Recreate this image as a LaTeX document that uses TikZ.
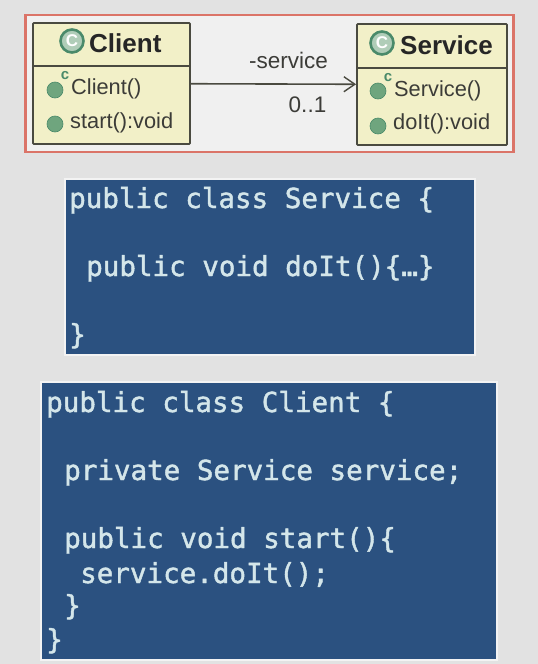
\documentclass[tikz,border=0pt]{standalone}
\usepackage{fontspec}
\setmainfont{Liberation Sans}
\newfontfamily\codefont[FakeBold=1.5]{DejaVu Sans Mono}
\usetikzlibrary{arrows.meta}
\definecolor{bgc}{HTML}{E2E2E2}
\definecolor{panel}{HTML}{F0F0F0}
\definecolor{redb}{HTML}{DB7468}
\definecolor{classf}{HTML}{F2F0C8}
\definecolor{classb}{HTML}{4A4A40}
\definecolor{codeb}{HTML}{2B5180}
\definecolor{codet}{HTML}{D4E6EA}
\definecolor{greenI}{HTML}{6FA57E}
\definecolor{greenD}{HTML}{4A8A6A}
\definecolor{txt}{HTML}{3C3C38}
\tikzset{
  x=1pt,y=-1pt,
  classbox/.style={draw=classb,line width=1.8pt,fill=classf,rectangle,inner sep=0pt,rounded corners=0.8pt},
  divider/.style={draw=classb,line width=1.5pt},
  codebox/.style={draw=white!60!bgc,line width=2pt,fill=codeb,rectangle,inner sep=0pt},
  codeline/.style={anchor=base west,inner sep=0pt,text=codet,font=\codefont\fontsize{27.55}{30}\selectfont},
  classname/.style={anchor=base west,inner sep=0pt,text=black!85,font=\bfseries\fontsize{26}{28}\selectfont},
  member/.style={anchor=base west,inner sep=0pt,text=txt,font=\fontsize{21.8}{24}\selectfont},
  ticon/.style={circle,draw=greenD,line width=2.6pt,fill=greenI!55!white,minimum size=23pt,inner sep=0pt,text=white,font=\bfseries\fontsize{17}{17}\selectfont},
  dot/.style={circle,fill=greenI,draw=greenD,line width=0.6pt,minimum size=16pt,inner sep=0pt},
  cmark/.style={inner sep=0pt,text=greenD,font=\bfseries\fontsize{15}{15}\selectfont},
  lbl/.style={inner sep=0pt,text=txt,font=\fontsize{22.5}{24}\selectfont},
}
\begin{document}
\begin{tikzpicture}
\useasboundingbox (0,0) rectangle (538,664);
\fill[bgc] (0,0) rectangle (538,664);
\node[rectangle,draw=redb,line width=2.4pt,fill=panel,minimum width=488pt,minimum height=137pt,inner sep=0pt] (frame) at (269.5,83.5) {};

% Client class
\node[classbox,minimum width=157pt,minimum height=121pt] (client) at (111.5,83.5) {};
\draw[divider] (33,66) -- (190,66);
\node[ticon] (cicon) at (72,41) {C};
\node[classname] (cname) at (89,52) {Client};
\node[dot] (cdot1) at (55,90) {};
\node[cmark] (cc) at (65,76) {c};
\node[member] (cm1) at (71,94) {Client()};
\node[dot] (cdot2) at (55,124) {};
\node[member] (cm2) at (70,128) {start():void};

% Service class
\node[classbox,minimum width=150pt,minimum height=121pt] (service) at (432,84.5) {};
\draw[divider] (357,68) -- (507,68);
\node[ticon] (sicon) at (382,43) {C};
\node[classname] (sname) at (400,54) {Service};
\node[dot] (sdot1) at (378,91) {};
\node[cmark] (sc) at (388,78) {c};
\node[member] (sm1) at (394,96) {Service()};
\node[dot] (sdot2) at (378,126) {};
\node[member] (sm2) at (393,129) {doIt():void};

% Association
\draw[classb,line width=1.6pt,-{Straight Barb[length=11pt,width=15pt,line width=1.4pt]}] (client) -- (service);
\node[lbl] (role) at (288.5,60) {-service};
\node[lbl] (mult) at (307.5,105) {0..1};

% Service code
\node[codebox,minimum width=410pt,minimum height=176pt] (codeA) at (270,267) {};
\node[codeline] (a1) at (69,208) {public class Service \{};
\node[codeline] (a2) at (86,276) {public void doIt()\{…\}};
\node[codeline] (a3) at (69,344) {\}};

% Client code
\node[codebox,minimum width=456pt,minimum height=278pt] (codeB) at (269,521) {};
\node[codeline] (b1) at (46,412) {public class Client \{};
\node[codeline] (b2) at (64,480) {private Service service;};
\node[codeline] (b3) at (64,548) {public void start()\{};
\node[codeline] (b4) at (80,583) {service.doIt();};
\node[codeline] (b5) at (64,615) {\}};
\node[codeline] (b6) at (46,649) {\}};
\end{tikzpicture}
\end{document}
